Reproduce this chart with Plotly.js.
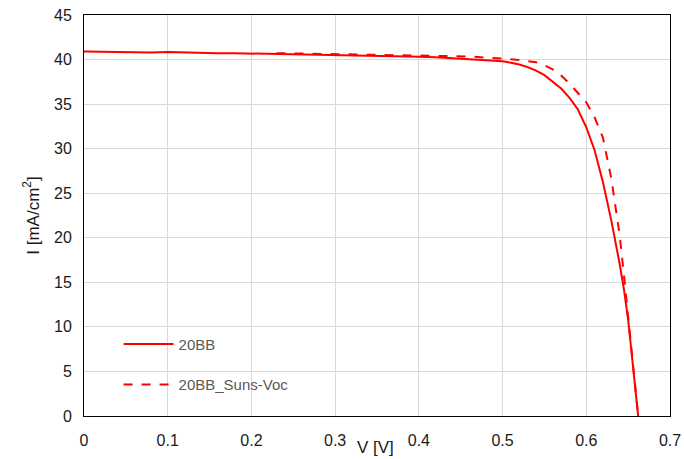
<!DOCTYPE html>
<html>
<head>
<meta charset="utf-8">
<script src="https://cdn.plot.ly/plotly-3.0.1.min.js"></script>
<style>html,body{margin:0;padding:0;background:#fff;}#chart{width:684px;height:459px;}</style>
</head>
<body>
<div id="chart"></div>
<script>
var seriesNames = ["20BB", "20BB_Suns-Voc"];

var vSolid = [0.00,0.02,0.04,0.06,0.08,0.10,0.12,0.14,0.16,0.18,0.20,0.22,0.24,0.26,0.28,0.30,0.32,0.34,0.36,0.38,0.40,0.42,0.44,0.46,0.48,0.50,0.51,0.52,0.53,0.54,0.55,0.56,0.57,0.58,0.59,0.60,0.61,0.62,0.63,0.64,0.645,0.65,0.655,0.66,0.662];
var iSolid = [40.90,40.86,40.88,40.82,40.80,40.85,40.78,40.76,40.72,40.71,40.68,40.66,40.62,40.60,40.56,40.52,40.49,40.45,40.42,40.38,40.32,40.25,40.15,40.05,39.95,39.80,39.65,39.45,39.15,38.75,38.25,37.55,36.75,35.70,34.40,32.40,29.80,26.20,21.90,17.00,14.20,10.80,6.50,1.50,0.00];

var vDash = [0.23,0.26,0.30,0.34,0.38,0.42,0.46,0.50,0.52,0.54,0.55,0.56,0.57,0.58,0.59,0.60,0.61,0.62,0.63,0.64,0.645,0.65,0.655,0.66,0.662];
var iDash = [40.72,40.68,40.62,40.58,40.52,40.45,40.35,40.10,39.95,39.70,39.35,38.90,38.20,37.30,36.30,35.20,33.50,31.20,26.60,20.20,15.80,11.00,6.50,1.50,0.00];

var xTicks = [0,0.1,0.2,0.3,0.4,0.5,0.6,0.7];
var xTickText = ["0","0.1","0.2","0.3","0.4","0.5","0.6","0.7"];
var yTicks = [0,5,10,15,20,25,30,35,40,45];

var traces = [
  {x: vSolid, y: iSolid, type: "scatter", mode: "lines", name: seriesNames[0], legendgroup: "a",
   line: {color: "#ff0000", width: 2}},
  {x: vDash, y: iDash, type: "scatter", mode: "lines", name: seriesNames[1], legendgroup: "b",
   line: {color: "#ff0000", width: 2, dash: "dash"}}
];

var fontFam = "Liberation Sans, Arial, sans-serif";
var layout = {
  width: 684, height: 459,
  margin: {l: 84, r: 14, t: 15, b: 43},
  paper_bgcolor: "#fff", plot_bgcolor: "#fff",
  font: {family: fontFam, size: 16, color: "#1a1a1a"},
  showlegend: true,
  legend: {x: 0.059, y: 0.22, xanchor: "left", yanchor: "top", bgcolor: "rgba(0,0,0,0)", itemwidth: 50,
           font: {family: fontFam, size: 15, color: "#595959"}, tracegroupgap: 18},
  xaxis: {range: [0, 0.7], tickvals: xTicks, ticktext: xTickText, showgrid: true, gridcolor: "#d9d9d9", gridwidth: 1,
          showline: true, linecolor: "#000", linewidth: 1, mirror: true, ticks: "", zeroline: false,
          ticklabelstandoff: 10,
          tickfont: {family: fontFam, size: 16, color: "#1a1a1a"}},
  yaxis: {range: [0, 45], tickvals: yTicks, showgrid: true, gridcolor: "#d9d9d9", gridwidth: 1,
          showline: true, linecolor: "#000", linewidth: 1, mirror: true, ticks: "", zeroline: false,
          ticklabelstandoff: 8,
          tickfont: {family: fontFam, size: 16, color: "#1a1a1a"},
          title: {text: "I [mA/cm<sup>2</sup>]", font: {family: fontFam, size: 17, color: "#1a1a1a"}, standoff: 10}},
  annotations: [
    {text: "V [V]", xref: "paper", yref: "paper", x: 0.498, y: 0, yshift: -31, xanchor: "center", yanchor: "middle",
     showarrow: false, font: {family: fontFam, size: 17, color: "#1a1a1a"}}
  ]
};

Plotly.newPlot("chart", traces, layout, {displayModeBar: false, staticPlot: true});
</script>
</body>
</html>
